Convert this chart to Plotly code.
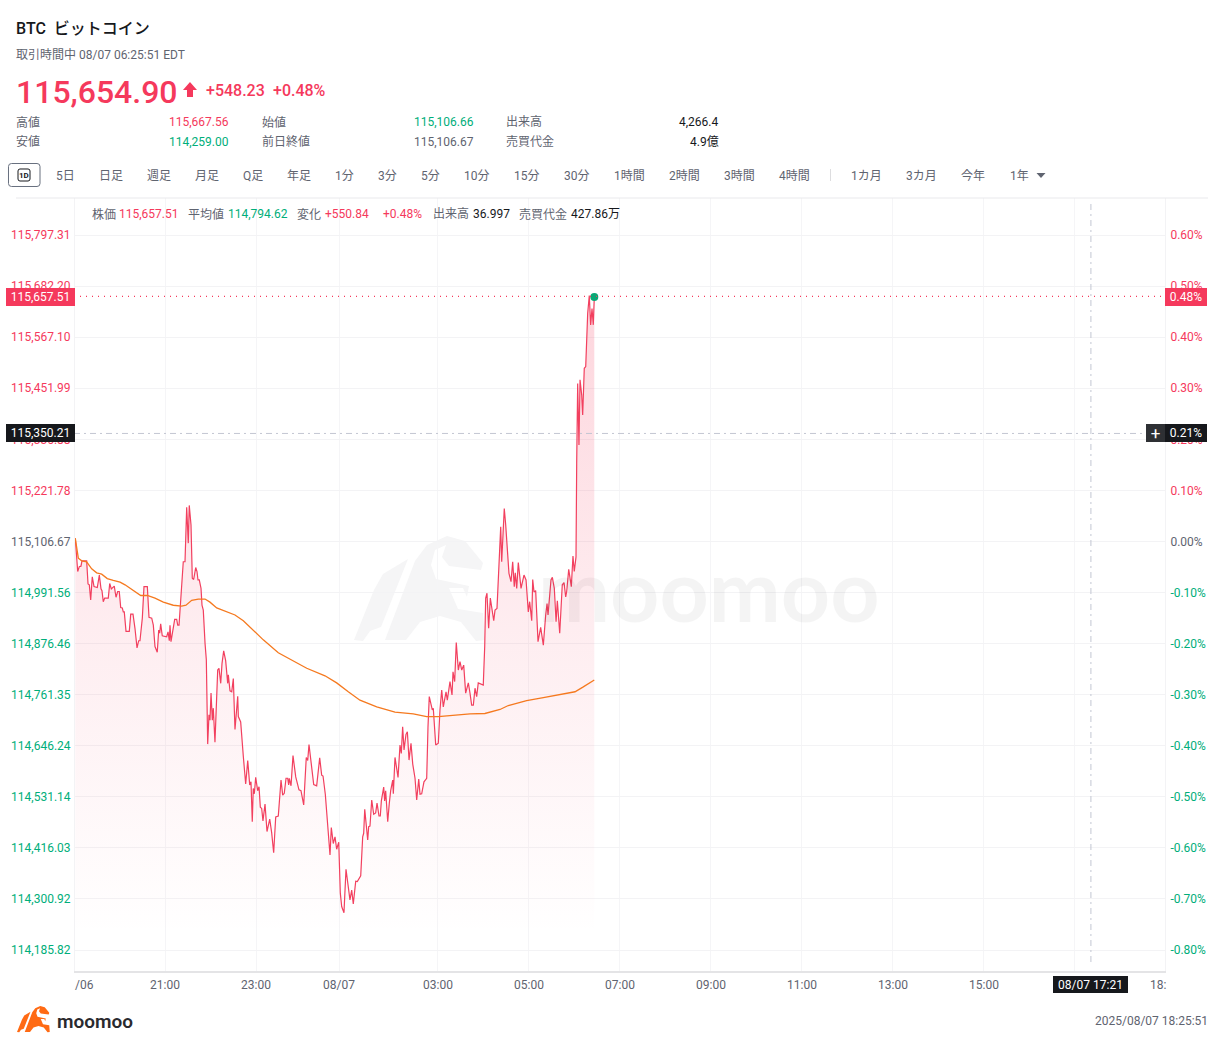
import plotly.graph_objects as go

# minutes since 08/06 19:00 and last price
time_min = [1.7, 3.6, 4.9, 7.0, 9.2, 10.5, 16.7, 18.5, 20.2, 22.0, 24.1, 26.4, 30.7, 33.4, 35.6, 36.9, 38.6, 40.5, 45.2, 47.1,
            49.2, 53.1, 55.4, 57.6, 59.7, 61.6, 63.7, 65.0, 66.3, 68.6, 72.9, 74.8, 77.8, 80.4, 83.1, 85.3, 87.0, 90.1, 92.3, 96.7,
            98.9, 102.5, 104.6, 106.8, 109.8, 111.7, 113.0, 114.3, 116.4, 122.2, 124.0, 125.7, 126.6, 127.9, 130.2, 132.8, 135.4, 136.8, 138.5, 141.1,
            144.1, 146.4, 148.6, 150.7, 152.0, 154.3, 156.0, 157.8, 160.5, 162.2, 163.5, 165.2, 167.5, 168.8, 170.5, 172.8, 174.5, 176.3, 178.0, 179.3,
            180.7, 182.4, 183.7, 185.9, 188.2, 189.5, 191.2, 193.5, 195.2, 197.4, 200.0, 202.7, 203.5, 205.7, 208.0, 210.1, 212.3, 213.6, 215.9, 216.7,
            219.8, 223.3, 226.4, 229.1, 231.7, 233.4, 235.1, 236.4, 237.8, 239.6, 242.2, 244.0, 245.7, 247.5, 249.2, 251.9, 254.5, 258.1, 260.7, 263.3,
            266.0, 269.4, 271.3, 273.0, 275.2, 277.3, 279.6, 281.8, 283.1, 283.9, 286.2, 288.8, 292.4, 296.7, 299.3, 302.9, 306.3, 308.2, 309.9, 312.5,
            316.1, 320.0, 324.0, 326.6, 328.4, 331.4, 333.2, 335.0, 337.6, 339.3, 341.9, 344.2, 346.4, 349.1, 351.2, 353.0, 356.0, 358.7, 361.3, 363.9,
            366.2, 368.3, 371.5, 373.6, 378.1, 380.7, 382.0, 383.4, 387.3, 388.6, 390.3, 392.6, 395.2, 397.8, 399.6, 402.2, 403.9, 405.3, 408.4, 409.7,
            411.0, 413.7, 415.8, 417.6, 420.3, 421.1, 423.3, 427.3, 429.9, 431.6, 433.4, 435.2, 437.8, 439.6, 441.8, 444.4, 446.7, 449.7, 451.9, 454.6,
            456.3, 458.5, 461.5, 465.1, 466.8, 468.5, 472.5, 473.8, 477.0, 480.4, 482.6, 484.9, 487.0, 490.6, 492.3, 495.8, 498.5, 499.8, 502.0, 504.1,
            506.8, 509.0, 511.3, 513.9, 516.5, 520.0, 522.2, 524.4, 526.6, 528.8, 531.0, 533.1, 539.7, 541.6, 542.9, 544.6, 546.8, 549.0, 553.5, 555.2,
            557.8, 560.1, 562.7, 564.0, 565.3, 567.4, 569.3, 571.9, 573.6, 576.3, 578.5, 580.6, 581.9, 583.8, 585.9, 589.5, 593.4, 596.1, 599.1, 600.9,
            603.6, 604.9, 606.6, 608.8, 611.9, 615.4, 618.9, 622.0, 623.8, 625.1, 626.8, 629.0, 630.8, 633.4, 635.7, 637.4, 640.5, 643.9, 646.2, 648.4,
            649.7, 652.4, 655.8, 658.0, 659.7, 662.0, 662.9, 664.2, 665.9, 667.3, 669.5, 670.8, 672.9, 674.8, 677.4, 679.5, 681.3, 683.1, 684.8, 686.1]
price = [115114, 115065, 115039, 115050, 115051, 115063, 115063, 115011, 115009, 114975, 115027, 115005, 115003, 115031, 115000, 114996, 114971, 114979, 114979, 115012,
         115000, 115006, 114981, 114994, 114994, 114958, 114957, 114948, 114948, 114904, 114904, 114943, 114943, 114911, 114867, 114883, 114883, 114934, 115005, 115005,
         114936, 114934, 114918, 114870, 114857, 114907, 114900, 114921, 114894, 114892, 114903, 114883, 114918, 114881, 114901, 114931, 114931, 114918, 114918, 114997,
         115061, 115061, 115184, 115103, 115188, 115144, 115024, 115021, 115048, 115039, 115020, 115020, 115001, 114963, 114952, 114877, 114840, 114650, 114716, 114704,
         114765, 114704, 114731, 114654, 114787, 114817, 114821, 114787, 114832, 114860, 114838, 114787, 114806, 114770, 114768, 114798, 114683, 114712, 114758, 114712,
         114700, 114622, 114560, 114613, 114558, 114565, 114475, 114550, 114538, 114575, 114545, 114554, 114508, 114505, 114477, 114515, 114453, 114481, 114450, 114405,
         114486, 114488, 114524, 114569, 114535, 114539, 114573, 114573, 114558, 114573, 114556, 114624, 114576, 114547, 114545, 114513, 114620, 114613, 114649, 114614,
         114559, 114556, 114619, 114580, 114578, 114537, 114494, 114456, 114400, 114462, 114426, 114441, 114413, 114429, 114314, 114284, 114270, 114368, 114332, 114299,
         114321, 114290, 114341, 114340, 114353, 114441, 114449, 114503, 114434, 114464, 114465, 114524, 114492, 114495, 114517, 114488, 114488, 114522, 114553, 114522,
         114545, 114475, 114517, 114545, 114569, 114538, 114620, 114575, 114648, 114629, 114689, 114637, 114672, 114678, 114614, 114652, 114605, 114573, 114524, 114571,
         114537, 114538, 114565, 114573, 114688, 114757, 114727, 114731, 114648, 114652, 114727, 114772, 114734, 114768, 114749, 114791, 114761, 114813, 114791, 114879,
         114817, 114836, 114817, 114828, 114765, 114788, 114765, 114738, 114738, 114776, 114757, 114788, 114783, 114870, 114979, 114990, 114911, 114979, 114928, 114952,
         114956, 115031, 115140, 115061, 115121, 115181, 115144, 115076, 115035, 115016, 115061, 115005, 115036, 115001, 115059, 115001, 115031, 115020, 114948, 114971,
         114928, 115021, 114993, 114996, 114881, 114913, 114873, 114941, 114967, 114941, 114971, 115020, 115026, 115001, 114926, 114973, 114900, 115009, 115014, 114982,
         114994, 115044, 115005, 115074, 115039, 115072, 115283, 115463, 115324, 115471, 115437, 115392, 115497, 115501, 115621, 115661, 115595, 115632, 115595, 115657.51]

avg_time = [1.7, 5.7, 10.2, 16.7, 23.3, 29.9, 36.5, 43.9, 51.8, 60.7, 67.3, 76.1, 88.0, 96.7, 106.8, 117.8, 130.9, 142.0, 147.7, 155.2,
            163.9, 172.8, 179.3, 188.2, 201.4, 212.3, 223.3, 232.1, 249.6, 269.4, 282.6, 306.9, 331.0, 346.4, 361.7, 377.1, 399.2, 423.3, 447.4, 465.1,
            480.4, 500.2, 522.2, 541.9, 561.8, 572.7, 596.9, 618.9, 640.9, 660.7, 671.6, 686.1]
avg_price = [115114, 115069, 115063, 115061, 115045, 115036, 115033, 115023, 115019, 115015, 115009, 114998, 114985, 114985, 114979, 114970, 114963, 114961, 114963, 114974,
             114977, 114977, 114970, 114957, 114948, 114941, 114928, 114913, 114885, 114856, 114843, 114821, 114804, 114788, 114768, 114749, 114734, 114722, 114718, 114712,
             114712, 114715, 114718, 114719, 114728, 114737, 114748, 114755, 114761, 114768, 114779, 114794.62]

price_ticks = [115797.31, 115682.20, 115567.10, 115451.99, 115336.88, 115221.78, 115106.67, 114991.56,
               114876.46, 114761.35, 114646.24, 114531.14, 114416.03, 114300.92, 114185.82]
pct_ticks = [0.60, 0.50, 0.40, 0.30, 0.20, 0.10, 0.00, -0.10, -0.20, -0.30, -0.40, -0.50, -0.60, -0.70, -0.80]
time_ticks = [120, 240, 349.5, 480, 600, 720, 840, 960, 1080, 1200, 1320]
time_labels = ['21:00', '23:00', '08/07', '03:00', '05:00', '07:00', '09:00', '11:00', '13:00', '15:00', '17:00']

prev_close = 115106.67
last_price = price[-1]
last_pct = 0.48
cross_price = 115350.21
cross_pct = 0.21
cross_time = 1341

RED = '#f5395c'
GREEN = '#00ae7a'
GRAY = '#5f6470'
DARK = '#16181c'
FONT = "Roboto, 'Noto Sans CJK JP', sans-serif"

W, H = 1225, 1047
L, R, T, B = 75, 1165, 198, 971

# moomoo mark, used for the watermark and (scaled) the footer
MARK_STRIPE = [(354, 640), (374, 590), (383, 574), (408, 559), (381, 627), (370, 631), (363, 641)]
MARK_BODY = [(385, 640), (415, 561), (427, 545), (447, 536), (465, 541), (483, 563), (481, 570), (449, 566), (442, 557),
             (446, 545), (435, 550), (431, 565), (436, 579), (469, 586), (467, 597), (463, 588), (449, 588), (458, 609),
             (483, 613), (485, 640), (476, 641), (461, 622), (440, 616), (420, 622), (406, 640)]


def fx(px):
    return (px - L) / (R - L)


def fy(py):
    return (B - py) / (B - T)


def label(x, y, text, size=12, color=GRAY, anchor='left', weight=400):
    fig.add_annotation(x=fx(x), y=fy(y), xref='paper', yref='paper', text=text, showarrow=False,
                       xanchor=anchor, yanchor='middle', borderpad=0, borderwidth=0,
                       font=dict(size=size, color=color, family=FONT, weight=weight))


def tag(x0, x1, yc, h, text, bg, color='white', size=12):
    fig.add_annotation(x=fx((x0 + x1) / 2), y=fy(yc), xref='paper', yref='paper', text=text, showarrow=False,
                       xanchor='center', yanchor='middle',
                       width=x1 - x0, height=h, bgcolor=bg, borderpad=0, borderwidth=0, align='center', valign='middle',
                       font=dict(size=size, color=color, family=FONT))


def outline(points, fill, layer='above'):
    d = 'M' + ' L'.join(f'{fx(a):.5f},{fy(b):.5f}' for a, b in points) + ' Z'
    fig.add_shape(type='path', path=d, xref='paper', yref='paper', fillcolor=fill, line_width=0, layer=layer)


def rounded(x0, y0, x1, y1, r, color):
    d = (f'M{fx(x0 + r):.5f},{fy(y0):.5f} L{fx(x1 - r):.5f},{fy(y0):.5f} Q{fx(x1):.5f},{fy(y0):.5f} {fx(x1):.5f},{fy(y0 + r):.5f} '
         f'L{fx(x1):.5f},{fy(y1 - r):.5f} Q{fx(x1):.5f},{fy(y1):.5f} {fx(x1 - r):.5f},{fy(y1):.5f} '
         f'L{fx(x0 + r):.5f},{fy(y1):.5f} Q{fx(x0):.5f},{fy(y1):.5f} {fx(x0):.5f},{fy(y1 - r):.5f} '
         f'L{fx(x0):.5f},{fy(y0 + r):.5f} Q{fx(x0):.5f},{fy(y0):.5f} {fx(x0 + r):.5f},{fy(y0):.5f} Z')
    fig.add_shape(type='path', path=d, xref='paper', yref='paper', line=dict(color=color, width=1))


def tick_colored(vals, texts):
    out = []
    for v, t in zip(vals, texts):
        c = RED if v > 0 else (GREEN if v < 0 else GRAY)
        out.append(f'<span style="color:{c}">{t}</span>')
    return out


def footer_mark(points):
    return [(17 + (a - 354) * 0.25, 1006 + (b - 536) * 0.25) for a, b in points]


fig = go.Figure()

# price line with fading fill
fig.add_trace(go.Scatter(
    x=time_min, y=price, mode='lines', name='株価',
    line=dict(color='#f2405f', width=1.2),
    fill='tozeroy',
    fillgradient=dict(type='vertical', start=114220, stop=last_price,
                      colorscale=[[0, 'rgba(245,57,92,0)'], [0.5, 'rgba(245,57,92,0.095)'], [1, 'rgba(245,57,92,0.21)']]),
))
fig.add_trace(go.Scatter(x=avg_time, y=avg_price, mode='lines', name='平均値', line=dict(color='#f5791f', width=1.3)))
fig.add_trace(go.Scatter(x=time_min[-1:], y=price[-1:], mode='markers', name='last',
                         marker=dict(color='#0aa876', size=8)))
# percent axis carries the dotted last price line
fig.add_trace(go.Scatter(x=[0, 1440], y=[last_pct, last_pct], yaxis='y2', mode='lines', name='last %',
                         line=dict(color=RED, width=1.2, dash='1px,5px')))

price_per_px = 115.11 / 51.07
y_low = prev_close - (B - 541.5) * price_per_px
y_high = prev_close + (541.5 - T) * price_per_px

fig.update_layout(
    width=W, height=H, margin=dict(l=L, r=W - R, t=T, b=H - B),
    paper_bgcolor='white', plot_bgcolor='white', showlegend=False,
    font=dict(family=FONT, size=12, color=GRAY),
    xaxis=dict(range=[1.32, 1438.7], tickmode='array', tickvals=time_ticks, ticktext=time_labels,
               showgrid=True, gridcolor='#f5f5f7', gridwidth=1, zeroline=False, ticks='',
               showline=True, linecolor='#e4e4e6', linewidth=2, tickfont=dict(size=12, color=GRAY), ticklabelstandoff=2),
    yaxis=dict(range=[y_low, y_high], tickmode='array', tickvals=price_ticks,
               ticktext=tick_colored(pct_ticks, [f'{v:,.2f}' for v in price_ticks]),
               showgrid=True, gridcolor='#f3f3f5', gridwidth=1, zeroline=False, ticks='',
               showline=True, linecolor='#f3f3f5', ticklabelstandoff=1, tickfont=dict(size=12)),
    yaxis2=dict(range=[(y_low - prev_close) / prev_close * 100, (y_high - prev_close) / prev_close * 100],
                overlaying='y', side='right', tickmode='array', tickvals=pct_ticks,
                ticktext=tick_colored(pct_ticks, [f'{v:.2f}%' for v in pct_ticks]),
                showgrid=False, zeroline=False, ticks='', showline=True, linecolor='#f3f3f5',
                ticklabelstandoff=2, tickfont=dict(size=12)),
)

# crosshair
cross_dash = '6px,4px,2px,4px'
fig.add_shape(type='line', xref='x', yref='y', x0=0, x1=1412, y0=cross_price, y1=cross_price,
              line=dict(color='#c3c6d2', width=1, dash=cross_dash))
fig.add_shape(type='line', xref='x', yref='paper', x0=cross_time, x1=cross_time, y0=fy(962), y1=fy(202),
              line=dict(color='#c3c6d2', width=1, dash=cross_dash))

# frame rule above the plot
fig.add_shape(type='line', xref='paper', yref='paper', x0=fx(16), x1=fx(1208), y0=fy(198), y1=fy(198),
              line=dict(color='#e9e9ec', width=1))

# header
label(16, 29, 'BTC  ビットコイン', size=16, color=DARK, weight=500)
label(16, 55, '取引時間中 08/07 06:25:51 EDT', size=12, color=GRAY)
label(16, 92, '115,654.90', size=32, color=RED, weight=500)
outline([(190, 82), (197, 90), (193, 90), (193, 97), (187, 97), (187, 90), (183, 90)], RED)
label(206, 90.5, '+548.23', size=16, color=RED, weight=500)
label(273, 90.5, '+0.48%', size=16, color=RED, weight=500)

label(16, 122, '高値')
label(229, 122, '115,667.56', color=RED, anchor='right')
label(16, 142, '安値')
label(229, 142, '114,259.00', color=GREEN, anchor='right')
label(262, 122, '始値')
label(474, 122, '115,106.66', color=GREEN, anchor='right')
label(262, 142, '前日終値')
label(474, 142, '115,106.67', anchor='right')
label(506, 122, '出来高')
label(719, 122, '4,266.4', color=DARK, anchor='right')
label(506, 142, '売買代金')
label(719, 142, '4.9億', color=DARK, anchor='right')

# period toolbar
rounded(8.5, 163.5, 40, 186.5, 3, '#68707f')
rounded(18, 169, 30, 181, 2, DARK)
label(24, 175, '1D', size=8, color=DARK, anchor='center', weight=700)
for cx, name in [(65, '5日'), (111, '日足'), (159, '週足'), (207, '月足'), (253, 'Q足'), (299, '年足'), (344, '1分'),
                 (387, '3分'), (430, '5分'), (477, '10分'), (527, '15分'), (577, '30分'), (630, '1時間'), (684.5, '2時間'),
                 (739.5, '3時間'), (794.5, '4時間'), (866, '1カ月'), (921, '3カ月'), (973, '今年'), (1019, '1年')]:
    label(cx, 175.5, name, anchor='center')
fig.add_shape(type='line', xref='paper', yref='paper', x0=fx(830.5), x1=fx(830.5), y0=fy(169), y1=fy(181),
              line=dict(color='#dddddf', width=1))
outline([(1036.5, 173), (1045.5, 173), (1041, 178)], GRAY)

# readout row
for x, text, color in [(92, '株価', GRAY), (119, '115,657.51', RED), (188, '平均値', GRAY), (228, '114,794.62', GREEN),
                       (297, '変化', GRAY), (325, '+550.84', RED), (383, '+0.48%', RED), (433, '出来高', GRAY),
                       (473, '36.997', DARK), (519, '売買代金', GRAY), (571, '427.86万', DARK)]:
    label(x, 214.5, text, color=color)

# price tags
tag(6, 75, 296.5, 18, '115,657.51', RED)
tag(1165, 1207, 296.5, 18, '0.48%', RED)
tag(6, 75, 433, 18, '115,350.21', DARK)
tag(1146, 1165, 433, 18, '+', '#2e3034', size=17)
tag(1165, 1207, 433, 18, '0.21%', DARK)
tag(1053, 1128, 984.5, 17, '08/07 17:21', DARK)

# clipped time labels at the axis ends
label(75, 984.5, '/06', anchor='left')
label(1150, 984.5, '18:', anchor='left')

# watermark
outline(MARK_STRIPE, '#f5f5f6', layer='below')
outline(MARK_BODY, '#f5f5f6', layer='below')
fig.add_annotation(x=fx(709), y=fy(588), xref='paper', yref='paper', text='moomoo', showarrow=False, xanchor='center',
                   yanchor='middle', font=dict(size=86, color='rgba(0,0,0,0.045)', family='Lato, sans-serif', weight=700))

# footer
outline(footer_mark(MARK_STRIPE), '#ff6a13')
outline(footer_mark(MARK_BODY), '#ff6a13')
label(57, 1021, 'moomoo', size=19, color='#2a2a2e', weight=600)
label(1208, 1021, '2025/08/07 18:25:51', color=GRAY, anchor='right')

fig.write_html('out.html', config=dict(displayModeBar=False), post_script="document.body.style.margin='0';")
